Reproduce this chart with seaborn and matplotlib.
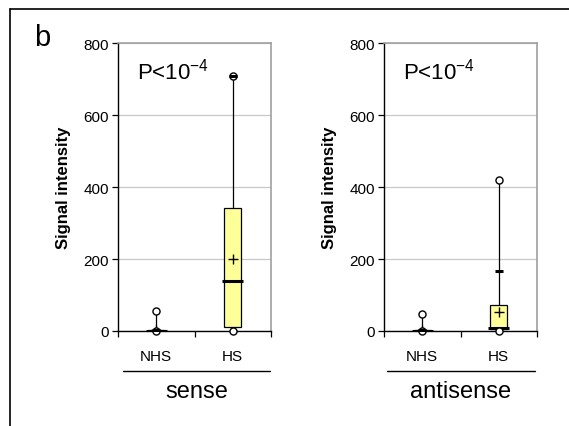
import numpy as np
import pandas as pd
import matplotlib.pyplot as plt
from matplotlib.lines import Line2D
import seaborn as sns

# --- data ---
groups = ["NHS", "HS"]
panels = ["sense", "antisense"]

sense_min = [0, 0]
sense_q1 = [0, 10]
sense_med = [1, 138]
sense_q3 = [3, 343]
sense_mean = [2, 200]
sense_p95 = [3, 707]
sense_max = [55, 707]

anti_min = [0, 0]
anti_q1 = [0, 5]
anti_med = [1, 8]
anti_q3 = [2, 72]
anti_mean = [2, 54]
anti_p95 = [2, 167]
anti_max = [47, 420]

p_text = r"P<10$^{\mathregular{-4}}$"
ylab = "Signal intensity"
yticks = [0, 200, 400, 600, 800]

# --- style ---
sns.set_style("white")
plt.rcParams['font.family'] = ['Liberation Sans', 'DejaVu Sans']
plt.rcParams['mathtext.fontset'] = 'custom'
plt.rcParams['mathtext.rm'] = 'Liberation Sans'
plt.rcParams['mathtext.default'] = 'regular'
for key in ['text.color', 'axes.labelcolor', 'xtick.color', 'ytick.color']:
    plt.rcParams[key] = 'black'

W, H = 569, 427
fig = plt.figure(figsize=(W / 100, H / 100), dpi=100)

box_color = '#FFFF99'
grid_color = '#C8C8C8'
frame_gray = '#A0A0A0'


def px(x0, y_top, w, h):
    return [x0 / W, (H - y_top - h) / H, w / W, h / H]


data = {
    "sense": (sense_min, sense_q1, sense_med, sense_q3, sense_mean, sense_p95, sense_max),
    "antisense": (anti_min, anti_q1, anti_med, anti_q3, anti_mean, anti_p95, anti_max),
}
ax_left = {"sense": 118, "antisense": 384}

for name in panels:
    lo, q1, med, q3, mean, p95, hi = data[name]
    ax = fig.add_axes(px(ax_left[name], 44, 153, 288))
    pos = np.arange(len(groups))

    stats = []
    for i in range(len(groups)):
        stats.append(dict(med=med[i], q1=q1[i], q3=q3[i], whislo=lo[i],
                          whishi=hi[i], mean=mean[i], fliers=[]))
    ax.bxp(stats, positions=pos, widths=0.22, showcaps=False, showfliers=False,
           showmeans=True, patch_artist=True,
           boxprops=dict(facecolor=box_color, edgecolor='black', linewidth=0.9),
           whiskerprops=dict(color='black', linewidth=0.9),
           medianprops=dict(linewidth=0),
           meanprops=dict(marker='+', markeredgecolor='black', markersize=7,
                          markeredgewidth=1.0))

    # thick medians, a bit wider than the box
    ax.hlines(med, pos - 0.14, pos + 0.14, colors='black', linewidth=2.2, zorder=4)

    # min / max circles
    pts = pd.DataFrame({"x": np.concatenate([pos, pos]),
                        "y": np.concatenate([lo, hi])})
    sns.scatterplot(data=pts, x="x", y="y", ax=ax, marker='o', s=26,
                    facecolor='white', edgecolor='black', linewidth=1.0,
                    zorder=5, clip_on=False)

    # short dashes (percentile marks), drawn over the circles
    ax.hlines(p95, pos - 0.055, pos + 0.055, colors='black', linewidth=2.2,
              zorder=6, clip_on=False)

    ax.set_xlim(-0.5, 1.5)
    ax.set_ylim(0, 800)
    ax.set_yticks(yticks)
    ax.yaxis.grid(True, color=grid_color, linewidth=0.9)
    ax.set_axisbelow(True)

    ax.set_xticks(pos)
    ax.set_xticklabels(groups)
    ax.set_xticks([-0.5, 0.5, 1.5], minor=True)
    ax.tick_params(axis='x', which='major', length=0, pad=13, labelsize=11)
    ax.tick_params(axis='x', which='minor', length=4, width=0.9, direction='out',
                   color='black', bottom=True)
    ax.tick_params(axis='y', length=4, width=0.9, direction='out', pad=2.5,
                   labelsize=11, left=True, color='black')
    ax.set_xlabel("")
    ax.set_ylabel(ylab, fontsize=12, fontweight='bold')
    ax.yaxis.set_label_coords(-0.31, 0.5)

    for side in ['left', 'bottom']:
        ax.spines[side].set_color('black')
        ax.spines[side].set_linewidth(1.0)
    for side in ['top', 'right']:
        ax.spines[side].set_color(frame_gray)
        ax.spines[side].set_linewidth(1.2)

    ax.text(0.124, 0.903, p_text, transform=ax.transAxes, fontsize=16,
            ha='left', va='center')

# group underlines and names
for x0, x1, label in [(123, 270, "sense"), (387, 535, "antisense")]:
    fig.add_artist(Line2D([x0 / W, x1 / W], [(H - 372) / H] * 2,
                          color='black', linewidth=1.0))
    fig.text((x0 + x1) / 2 / W, (H - 392) / H, label, fontsize=17,
             ha='center', va='center')

# outer frame (top and left) and panel letter
fig.add_artist(Line2D([10 / W, 1], [(H - 10) / H] * 2, color='black', linewidth=1.2))
fig.add_artist(Line2D([10 / W] * 2, [0, (H - 10) / H], color='black', linewidth=1.2))
fig.text(42 / W, (H - 38) / H, "b", fontsize=21, ha='center', va='center')

plt.savefig('out.png', dpi=100)
